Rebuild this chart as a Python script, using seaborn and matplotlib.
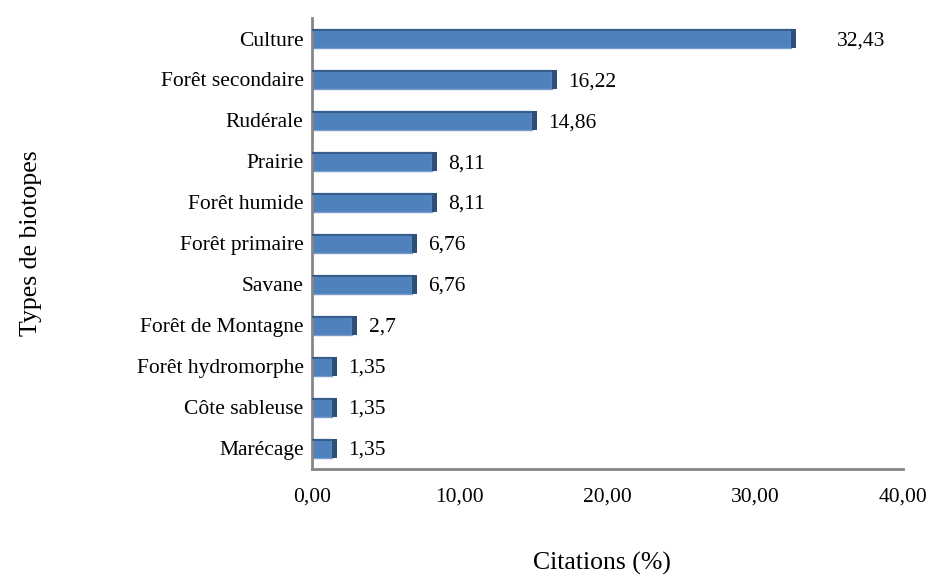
import pandas as pd
import seaborn as sns
import numpy as np
import matplotlib.pyplot as plt
from matplotlib.ticker import FixedLocator
from matplotlib.patches import Rectangle

# Data
biotopes = ["Culture", "Forêt secondaire", "Rudérale", "Prairie", "Forêt humide",
            "Forêt primaire", "Savane", "Forêt de Montagne", "Forêt hydromorphe",
            "Côte sableuse", "Marécage"]
citations = [32.43, 16.22, 14.86, 8.11, 8.11, 6.76, 6.76, 2.7, 1.35, 1.35, 1.35]
value_labels = ["32,43", "16,22", "14,86", "8,11", "8,11", "6,76", "6,76",
                "2,7", "1,35", "1,35", "1,35"]
xticks = [0, 10, 20, 30, 40]
xtick_labels = ["0,00", "10,00", "20,00", "30,00", "40,00"]

data = pd.DataFrame({"Biotope": biotopes, "Citations": citations})

sns.set_style("white")
plt.rcParams['font.family'] = ['Liberation Serif', 'DejaVu Serif']
plt.rcParams['text.color'] = 'black'
plt.rcParams['xtick.color'] = 'black'
plt.rcParams['ytick.color'] = 'black'
plt.rcParams['axes.labelcolor'] = 'black'

fs = 15.5

fig = plt.figure(figsize=(9.34, 5.81), dpi=100)
ax = fig.add_axes([0.334, 0.193, 0.633, 0.776])

sns.barplot(data=data, x="Citations", y="Biotope", orient="h", color="#4F81BD",
            saturation=1, width=0.46, edgecolor="#7A9CCB", linewidth=1.0, ax=ax)

# darker top and right side for a light 3D look
for p in ax.patches:
    x0, y0 = p.get_x(), p.get_y()
    w, h = p.get_width(), p.get_height()
    ax.add_patch(Rectangle((x0, y0), w, h * 0.12, color="#385D8A", lw=0, zorder=3))
    ax.add_patch(Rectangle((x0 + w, y0), 0.35, h, color="#2E4F78", lw=0, zorder=3,
                           clip_on=False))

# value labels
for i, (v, lab) in enumerate(zip(citations, value_labels)):
    off = 33 if i == 0 else 12
    ax.annotate(lab, (v, i), xytext=(off, -1.5), textcoords="offset points",
                va="center", ha="left", fontsize=fs)

ax.set_xlim(0, 40)
ax.set_ylim(len(biotopes) - 0.5, -0.5)
ax.set_xticks(xticks)
ax.set_xticklabels(xtick_labels, fontsize=fs)
ax.tick_params(axis="y", which="major", length=0, labelsize=fs, pad=6)
ax.yaxis.set_minor_locator(FixedLocator(np.arange(-0.5, len(biotopes), 1)))
ax.tick_params(axis="y", which="minor", length=5, color="#868686", width=1.5)
ax.tick_params(axis="x", length=5, color="#868686", width=1.5, pad=11, direction="inout")

for s in ["top", "right"]:
    ax.spines[s].set_visible(False)
for s in ["left", "bottom"]:
    ax.spines[s].set_color("#868686")
    ax.spines[s].set_linewidth(2)

ax.set_xlabel("Citations (%)", fontsize=18.5)
ax.set_ylabel("Types de biotopes", fontsize=18.5)
ax.xaxis.set_label_coords(0.49, -0.185)
ax.yaxis.set_label_coords(-0.457, 0.5)

plt.savefig("out.png", dpi=100)
